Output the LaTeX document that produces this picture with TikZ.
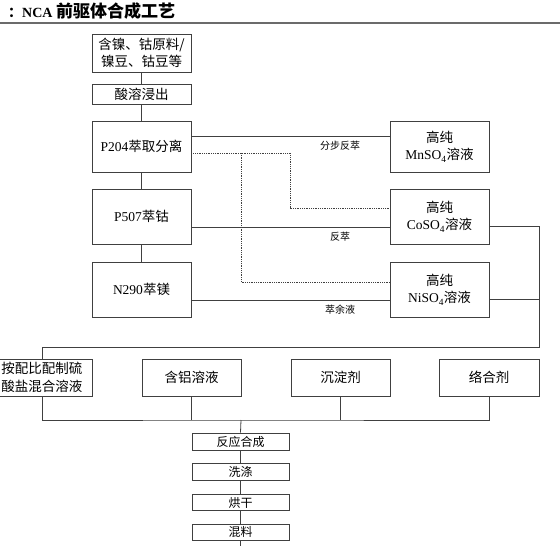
\documentclass[tikz,border=0pt]{standalone}
\usepackage{fontspec}
\setmainfont{Liberation Serif}
\newfontfamily\cjk{Noto Sans CJK SC}
\newcommand{\zh}[1]{{\cjk #1}}
\usetikzlibrary{calc,positioning}
\definecolor{lineagris}{rgb}{0.25,0.25,0.25}
\definecolor{reglagris}{rgb}{0.42,0.42,0.42}
\tikzset{
  bloque/.style={
    draw=lineagris,
    line width=.8pt,
    align=center,
    minimum width=99pt,
    inner sep=0pt,
    font=\fontsize{13.5}{17.5}\selectfont
  },
  paso/.style={
    bloque,
    minimum width=97pt,
    font=\fontsize{12}{14}\selectfont
  },
  etiqueta/.style={
    inner sep=0pt,
    font=\cjk\fontsize{10}{12}\selectfont
  },
  linea/.style={
    draw=lineagris,
    line width=.8pt
  },
  punteado/.style={
    linea,
    densely dotted,
    line width=.9pt
  }
}

\begin{document}
\begin{tikzpicture}[x=1pt,y=-1pt,node distance=13pt]
\useasboundingbox (0,0) rectangle (560,546);
\node[anchor=west,inner sep=0pt,font=\bfseries\fontsize{14}{16}\selectfont] (titulo) at (8,11.5) {\zh{：}NCA {\fontsize{17}{18}\selectfont\zh{前驱体合成工艺}}};
\draw[reglagris,line width=2pt] (0,23) -- (560,23);
\node[bloque,minimum height=38pt] (a) at (141.5,53) {\zh{含镍、钴原料/}\\\zh{镍豆、钴豆等}};
\node[bloque,minimum height=20pt] (b) at (141.5,94) {\zh{酸溶浸出}};
\node[bloque,minimum height=51pt] (c) at (141.5,146.5) {P204\zh{萃取分离}};
\node[bloque,minimum height=55pt] (d) at (141.5,216.5) {P507\zh{萃钴}};
\node[bloque,minimum height=55pt] (e) at (141.5,289.5) {N290\zh{萃镁}};
\node[bloque,minimum height=51pt] (mn) at (439.5,146.5) {\zh{高纯}\\MnSO\textsubscript{4}\zh{溶液}};
\node[bloque,minimum height=55pt] (co) at (439.5,216.5) {\zh{高纯}\\CoSO\textsubscript{4}\zh{溶液}};
\node[bloque,minimum height=55pt] (ni) at (439.5,289.5) {\zh{高纯}\\NiSO\textsubscript{4}\zh{溶液}};
\node[bloque,minimum width=100pt,minimum height=37pt] (f) at (42,377.5) {\zh{按配比配制硫}\\\zh{酸盐混合溶液}};
\node[bloque,minimum height=37pt] (al) at (191.5,377.5) {\zh{含铝溶液}};
\node[bloque,minimum height=37pt] (pr) at (340.5,377.5) {\zh{沉淀剂}};
\node[bloque,minimum width=100pt,minimum height=37pt] (cx) at (489,377.5) {\zh{络合剂}};
\node[paso,minimum height=17pt] (g) at (240.5,441.5) {\zh{反应合成}};
\node[paso,minimum height=17pt,below=of g] (h) {\zh{洗涤}};
\node[paso,minimum height=16pt,below=of h] (i) {\zh{烘干}};
\node[paso,minimum height=16pt,below=of i] (j) {\zh{混料}};
\coordinate (p0) at ([yshift=-6.5pt]c.east);
\coordinate (p1) at (290,208);
\coordinate (p2) at (241,282);
\coordinate (q) at (539,347);
\coordinate (q2) at ([yshift=-10pt]ni.east);
\coordinate (r) at (241,420);
\coordinate (fin) at (240.5,546);
\draw[linea] (a) -- (b);
\draw[linea] (b) -- (c);
\draw[linea] (c) -- (d);
\draw[linea] (d) -- (e);
\draw[linea] ([yshift=10.5pt]c.east) -- node[etiqueta,pos=.75,yshift=-9.5pt] {分步反萃} ([yshift=10.5pt]mn.west);
\draw[linea] ([yshift=-10.5pt]d.east) -- node[etiqueta,pos=.75,yshift=-9.5pt] {反萃} ([yshift=-10.5pt]co.west);
\draw[linea] ([yshift=-10.5pt]e.east) -- node[etiqueta,pos=.75,yshift=-9.5pt] {萃余液} ([yshift=-10.5pt]ni.west);
\draw[punteado] (p0) -| (p1) -- (co.west |- p1);
\draw[punteado] (p0 -| p2) -- (p2) -- (ni.west |- p2);
\draw[linea] ([yshift=-10pt]co.east) -| (q) -| (f.north);
\draw[linea] (q2) -- (q2 -| q);
\draw[linea] (f.south) |- (r) -| (cx.south);
\draw[linea] (al.south) -- (al.south |- r);
\draw[linea] (pr.south) -- (pr.south |- r);
\draw[linea] (r) -- (g.north);
\draw[linea] (g) -- (h);
\draw[linea] (h) -- (i);
\draw[linea] (i) -- (j);
\draw[linea] (j.south) -- (fin);
\end{tikzpicture}
\end{document}
